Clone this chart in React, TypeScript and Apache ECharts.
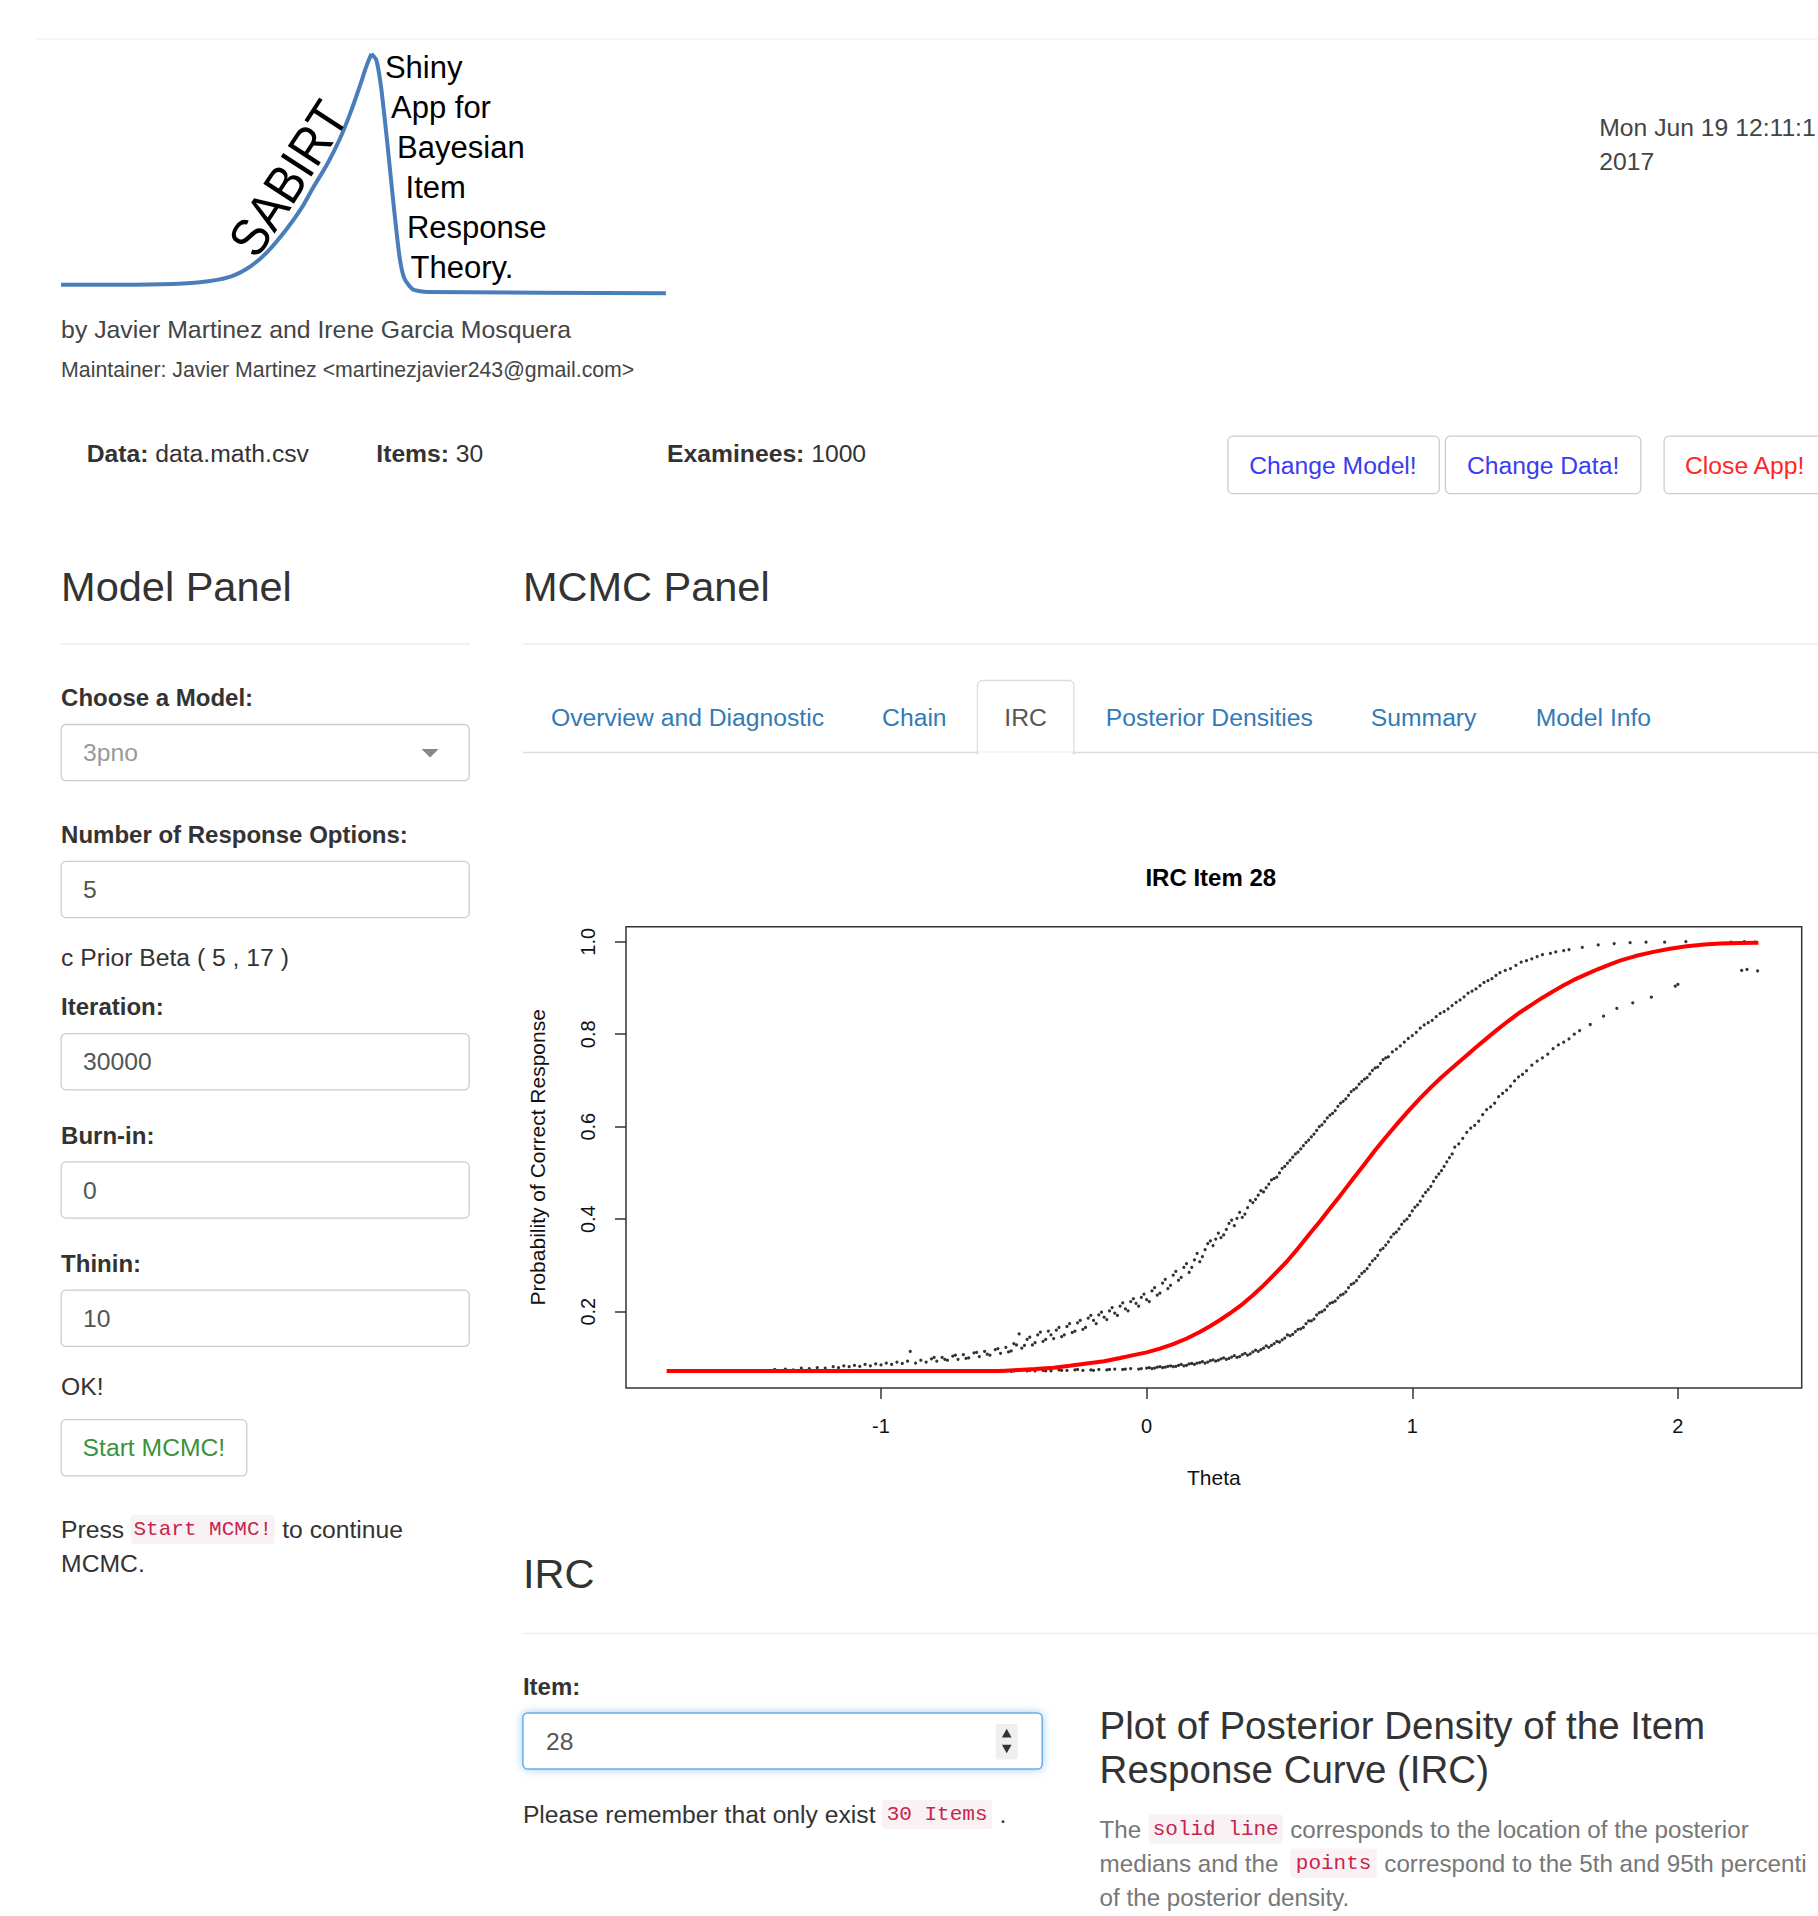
import React, { useEffect, useRef } from "react";
import * as echarts from "echarts";

// ---------------- data ----------------
const thetaTicks = [-1, 0, 1, 2];
const probTicks = [0.2, 0.4, 0.6, 0.8, 1.0];

// posterior median IRC (red line)
const medianIRC: [number, number][] = [
  [-1.807, 0.072], [-1.4, 0.072], [-1.0, 0.072], [-0.55, 0.072], [-0.48, 0.074], [-0.42, 0.076],
  [-0.35, 0.079], [-0.29, 0.083], [-0.226, 0.088], [-0.16, 0.093], [-0.1, 0.1], [-0.05, 0.106],
  [0.0, 0.112], [0.05, 0.12], [0.1, 0.13], [0.151, 0.142], [0.2, 0.156], [0.24, 0.169],
  [0.276, 0.182], [0.32, 0.199], [0.36, 0.216], [0.401, 0.236], [0.44, 0.257], [0.48, 0.28],
  [0.527, 0.308], [0.57, 0.337], [0.61, 0.366], [0.652, 0.395], [0.69, 0.423], [0.73, 0.452],
  [0.778, 0.488], [0.82, 0.519], [0.86, 0.549], [0.904, 0.58], [0.95, 0.611], [0.99, 0.637],
  [1.03, 0.662], [1.07, 0.685], [1.11, 0.707], [1.154, 0.729], [1.2, 0.752], [1.24, 0.772],
  [1.28, 0.791], [1.32, 0.81], [1.36, 0.828], [1.405, 0.847], [1.45, 0.864], [1.49, 0.879],
  [1.531, 0.893], [1.57, 0.906], [1.61, 0.918], [1.656, 0.93], [1.7, 0.941], [1.74, 0.95],
  [1.782, 0.959], [1.84, 0.969], [1.908, 0.978], [1.97, 0.985], [2.033, 0.99], [2.1, 0.994],
  [2.159, 0.996], [2.23, 0.997], [2.303, 0.998],
];

// 95th percentile points (upper band)
const upper95: [number, number][] = [
  [-1.4, 0.075], [-1.36, 0.076], [-1.33, 0.074], [-1.3, 0.078], [-1.27, 0.077], [-1.24, 0.079],
  [-1.21, 0.078], [-1.18, 0.081], [-1.16, 0.079], [-1.14, 0.083], [-1.12, 0.081], [-1.1, 0.084],
  [-1.08, 0.082], [-1.06, 0.086], [-1.04, 0.083], [-1.02, 0.087], [-1.0, 0.085], [-0.98, 0.089],
  [-0.96, 0.086], [-0.94, 0.091], [-0.92, 0.088], [-0.9, 0.093], [-0.89, 0.114], [-0.87, 0.089],
  [-0.85, 0.095], [-0.83, 0.091], [-0.81, 0.098], [-0.79, 0.093], [-0.77, 0.101], [-0.75, 0.095],
  [-0.73, 0.104], [-0.71, 0.097], [-0.69, 0.107], [-0.67, 0.1], [-0.65, 0.111], [-0.63, 0.103],
  [-0.61, 0.114], [-0.59, 0.106], [-0.57, 0.118], [-0.55, 0.11], [-0.53, 0.123], [-0.51, 0.115],
  [-0.49, 0.128], [-0.48, 0.152], [-0.47, 0.121], [-0.45, 0.14], [-0.43, 0.128], [-0.41, 0.15],
  [-0.39, 0.136], [-0.37, 0.158], [-0.35, 0.142], [-0.33, 0.166], [-0.31, 0.15], [-0.29, 0.174],
  [-0.27, 0.158], [-0.25, 0.181], [-0.23, 0.166], [-0.21, 0.192], [-0.19, 0.174], [-0.17, 0.199],
  [-0.15, 0.183], [-0.13, 0.209], [-0.11, 0.192], [-0.09, 0.219], [-0.07, 0.202], [-0.05, 0.228],
  [-0.03, 0.212], [-0.01, 0.238], [0.01, 0.222], [0.03, 0.252], [0.05, 0.24], [0.07, 0.27],
  [0.09, 0.257], [0.11, 0.287], [0.13, 0.274], [0.15, 0.304], [0.17, 0.296], [0.19, 0.326],
  [0.21, 0.319], [0.23, 0.347], [0.25, 0.343], [0.27, 0.37], [0.29, 0.366], [0.31, 0.391],
  [0.33, 0.386], [0.35, 0.415], [0.37, 0.411], [0.39, 0.44], [0.41, 0.443], [0.43, 0.462],
  [0.45, 0.468], [0.47, 0.485], [0.49, 0.491], [0.51, 0.51], [0.53, 0.521], [0.55, 0.534],
  [0.57, 0.545], [0.59, 0.559], [0.61, 0.571], [0.63, 0.584], [0.65, 0.6], [0.67, 0.611],
  [0.69, 0.625], [0.71, 0.635], [0.73, 0.651], [0.75, 0.66], [0.77, 0.676], [0.79, 0.684],
  [0.81, 0.698], [0.83, 0.706], [0.85, 0.722], [0.87, 0.729], [0.89, 0.745], [0.91, 0.751],
  [0.94, 0.768], [0.97, 0.783], [1.0, 0.797], [1.03, 0.813], [1.06, 0.825], [1.09, 0.838],
  [1.12, 0.849], [1.15, 0.862], [1.18, 0.874], [1.21, 0.889], [1.24, 0.898], [1.27, 0.912],
  [1.3, 0.92], [1.33, 0.933], [1.37, 0.942], [1.41, 0.956], [1.45, 0.963], [1.49, 0.972],
  [1.54, 0.978], [1.59, 0.983], [1.64, 0.988], [1.7, 0.993], [1.76, 0.996], [1.82, 0.998],
  [1.88, 0.999], [1.95, 0.999], [2.03, 1.0], [2.2, 0.999], [2.25, 1.0], [2.29, 0.999],
  [-0.8, 0.101], [-0.76, 0.097], [-0.72, 0.106], [-0.68, 0.099], [-0.64, 0.112], [-0.6, 0.108],
  [-0.56, 0.12], [-0.52, 0.113], [-0.5, 0.131], [-0.46, 0.127], [-0.44, 0.145], [-0.42, 0.133],
  [-0.4, 0.156], [-0.38, 0.14], [-0.36, 0.15], [-0.34, 0.16], [-0.32, 0.146], [-0.3, 0.168],
  [-0.28, 0.155], [-0.26, 0.176], [-0.24, 0.162], [-0.22, 0.186], [-0.2, 0.181], [-0.18, 0.193],
  [-0.16, 0.188], [-0.14, 0.202], [-0.12, 0.197], [-0.1, 0.212], [-0.08, 0.206], [-0.06, 0.222],
  [-0.04, 0.218], [-0.02, 0.231], [0.0, 0.226], [0.02, 0.245], [0.04, 0.236], [0.06, 0.262],
  [0.08, 0.25], [0.1, 0.279], [0.12, 0.268], [0.14, 0.296], [0.16, 0.285], [0.18, 0.312],
  [0.2, 0.308], [0.22, 0.334], [0.24, 0.353], [0.26, 0.357], [0.28, 0.36], [0.3, 0.378],
  [0.32, 0.398], [0.34, 0.402], [0.36, 0.404], [0.38, 0.425], [0.4, 0.436], [0.42, 0.452],
  [0.44, 0.459], [0.46, 0.476], [0.48, 0.488], [0.5, 0.5], [0.52, 0.514], [0.54, 0.527],
  [0.56, 0.541], [0.58, 0.552], [0.6, 0.566], [0.62, 0.578], [0.64, 0.592], [0.66, 0.604],
  [0.68, 0.619], [0.7, 0.629], [0.72, 0.644], [0.74, 0.655], [0.76, 0.668], [0.78, 0.68],
  [0.8, 0.692], [0.82, 0.703], [0.84, 0.714], [0.86, 0.727], [0.88, 0.737], [0.9, 0.749],
  [0.925, 0.762], [0.955, 0.775], [0.985, 0.791], [1.015, 0.804], [1.045, 0.82], [1.075, 0.83],
  [1.105, 0.845], [1.135, 0.855], [1.165, 0.869], [1.195, 0.881], [1.225, 0.893], [1.255, 0.905],
  [1.285, 0.916], [1.315, 0.927], [1.35, 0.938], [1.39, 0.949], [1.43, 0.959], [1.47, 0.968],
  [1.52, 0.975], [1.57, 0.981],
];

// 5th percentile points (lower band)
const lower05: [number, number][] = [
  [-0.57, 0.071], [-0.54, 0.072], [-0.51, 0.071], [-0.48, 0.073], [-0.45, 0.072], [-0.42, 0.072],
  [-0.39, 0.073], [-0.36, 0.072], [-0.33, 0.074], [-0.3, 0.073], [-0.27, 0.074], [-0.24, 0.073],
  [-0.21, 0.074], [-0.18, 0.075], [-0.15, 0.074], [-0.12, 0.076], [-0.09, 0.075], [-0.06, 0.077],
  [-0.03, 0.076], [0.0, 0.078], [0.02, 0.077], [0.04, 0.08], [0.06, 0.079], [0.08, 0.082],
  [0.1, 0.081], [0.12, 0.084], [0.14, 0.083], [0.16, 0.087], [0.18, 0.086], [0.2, 0.09],
  [0.22, 0.089], [0.24, 0.094], [0.26, 0.093], [0.28, 0.098], [0.3, 0.097], [0.32, 0.102],
  [0.34, 0.101], [0.36, 0.107], [0.38, 0.106], [0.4, 0.113], [0.42, 0.114], [0.44, 0.121],
  [0.46, 0.123], [0.48, 0.131], [0.5, 0.134], [0.52, 0.143], [0.54, 0.148], [0.56, 0.157],
  [0.58, 0.163], [0.6, 0.174], [0.62, 0.18], [0.64, 0.193], [0.66, 0.2], [0.68, 0.212],
  [0.7, 0.22], [0.72, 0.23], [0.74, 0.238], [0.76, 0.252], [0.78, 0.262], [0.8, 0.276],
  [0.82, 0.287], [0.84, 0.302], [0.86, 0.315], [0.88, 0.333], [0.9, 0.344], [0.92, 0.361],
  [0.94, 0.372], [0.96, 0.389], [0.98, 0.4], [1.0, 0.418], [1.02, 0.431], [1.04, 0.45],
  [1.06, 0.464], [1.08, 0.482], [1.1, 0.498], [1.12, 0.514], [1.14, 0.533], [1.16, 0.556],
  [1.19, 0.575], [1.22, 0.597], [1.25, 0.612], [1.28, 0.637], [1.31, 0.651], [1.34, 0.672],
  [1.37, 0.688], [1.4, 0.708], [1.43, 0.721], [1.47, 0.742], [1.51, 0.757], [1.55, 0.777],
  [1.59, 0.79], [1.63, 0.808], [1.67, 0.821], [1.72, 0.839], [1.77, 0.856], [1.83, 0.868],
  [1.9, 0.88], [1.99, 0.904], [2.0, 0.908], [2.24, 0.938], [2.26, 0.94], [2.3, 0.937],
  [-0.55, 0.073], [-0.5, 0.072], [-0.44, 0.073], [-0.38, 0.072], [-0.32, 0.073], [-0.26, 0.075],
  [-0.2, 0.073], [-0.14, 0.075], [-0.08, 0.076], [-0.02, 0.077], [0.01, 0.079], [0.03, 0.078],
  [0.05, 0.081], [0.07, 0.08], [0.09, 0.083], [0.11, 0.082], [0.13, 0.086], [0.15, 0.084],
  [0.17, 0.088], [0.19, 0.089], [0.21, 0.092], [0.23, 0.091], [0.25, 0.096], [0.27, 0.095],
  [0.29, 0.1], [0.31, 0.099], [0.33, 0.105], [0.35, 0.103], [0.37, 0.11], [0.39, 0.109],
  [0.41, 0.117], [0.43, 0.118], [0.45, 0.126], [0.47, 0.127], [0.49, 0.136], [0.51, 0.139],
  [0.53, 0.15], [0.55, 0.151], [0.57, 0.162], [0.59, 0.166], [0.61, 0.18], [0.63, 0.184],
  [0.65, 0.198], [0.67, 0.204], [0.69, 0.218], [0.71, 0.223], [0.73, 0.236], [0.75, 0.243],
  [0.77, 0.259], [0.79, 0.267], [0.81, 0.283], [0.83, 0.293], [0.85, 0.31], [0.87, 0.322],
  [0.89, 0.337], [0.91, 0.351], [0.93, 0.368], [0.95, 0.379], [0.97, 0.396], [0.99, 0.408],
  [1.01, 0.426], [1.03, 0.439], [1.05, 0.458], [1.07, 0.471], [1.09, 0.491], [1.11, 0.505],
  [1.13, 0.524], [1.15, 0.541], [1.175, 0.563], [1.205, 0.588], [1.235, 0.603], [1.265, 0.626],
  [1.295, 0.643], [1.325, 0.665], [1.355, 0.679], [1.385, 0.699], [1.415, 0.713], [1.45, 0.733],
  [1.49, 0.749], [1.53, 0.769], [1.57, 0.783], [1.61, 0.8],
];

const tabLabels = ["Overview and Diagnostic", "Chain", "IRC", "Posterior Densities", "Summary", "Model Info"];
const logoWords = ["Shiny", "App for", "Bayesian", "Item", "Response", "Theory."];

// ---------------- layout helpers ----------------
const W = 1818;
const H = 1916;
const K = W / 1488; // layout was measured on the 1488-wide preview
const S = (v: number) => Math.round(v * K * 10) / 10;
const FONT = '"Liberation Sans", Arial, Helvetica, sans-serif';
const MONO = '"Liberation Mono", "DejaVu Sans Mono", monospace';
const BODY = 24.7;

function T(x: number, y: number, text: string, o: any = {}) {
  const align = o.align || "left";
  return {
    type: "text",
    x: S(x),
    y: S(y),
    rotation: o.rotation || 0,
    scaleX: o.scaleX || 1,
    silent: true,
    z: 10,
    style: {
      text,
      fill: o.color || "#333",
      fontSize: o.size || BODY,
      fontFamily: o.family || FONT,
      fontWeight: o.weight || "normal",
      textAlign: align,
      align,
      textVerticalAlign: "middle",
      verticalAlign: "middle",
      rich: o.rich,
    },
  };
}
function R(x1: number, y1: number, x2: number, y2: number, style: any = {}, r: any = 4) {
  return {
    type: "rect",
    silent: true,
    z: 5,
    shape: { x: S(x1), y: S(y1), width: S(x2) - S(x1), height: S(y2) - S(y1), r: Array.isArray(r) ? r.map(S) : S(r) },
    style: { fill: "#fff", stroke: "#ccc", lineWidth: 1.3, ...style },
  };
}
function L(x1: number, y1: number, x2: number, y2: number, color: string, w = 1.5) {
  return {
    type: "line",
    silent: true,
    z: 6,
    shape: { x1: S(x1), y1: S(y1), x2: S(x2), y2: S(y2) },
    style: { stroke: color, lineWidth: w },
  };
}
const P = (pts: number[][]) => pts.map(([x, y]) => [S(x), S(y)]);
function codeSpan(x1: number, x2: number, y: number, text: string) {
  return [
    R(x1, y - 12, x2, y + 12, { fill: "#f9f2f4", stroke: null }, 3),
    T((x1 + x2) / 2, y, text, { align: "center", color: "#c7254e", family: MONO, size: 21 }),
  ];
}
const boldRich = { b: { fontWeight: "bold", fontSize: BODY, fontFamily: FONT, fill: "#333" } };

function buildGraphics() {
  const g: any[] = [];
  // faint top rule
  g.push(L(30, 32, 1488, 32, "#f2f2f2", 1.2));

  // ---- logo ----
  g.push({
    type: "polyline", silent: true, z: 6,
    shape: {
      points: P([[50, 233], [110, 233], [150, 232], [172, 230], [190, 226], [205, 218], [219, 206], [235, 187],
        [247, 170], [256, 154], [268, 134], [278, 114], [287, 92], [295, 69], [300, 54], [304, 44]]),
      smooth: 0.3,
    },
    style: { stroke: "#4a7ebb", lineWidth: 4, fill: null },
  });
  g.push({
    type: "polyline", silent: true, z: 6,
    shape: {
      points: P([[304, 44], [308, 49], [312, 72], [317, 117], [322, 166], [327, 210], [331, 228], [338, 237],
        [350, 239], [545, 240]]),
      smooth: 0.2,
    },
    style: { stroke: "#4a7ebb", lineWidth: 4, fill: null },
  });
  g.push(T(236, 146, "SABIRT", { align: "center", size: 53, color: "#000", scaleX: 0.9, rotation: (57 * Math.PI) / 180 }));
  const logoX = [315, 320, 325, 332, 333, 336];
  logoWords.forEach((w, i) => g.push(T(logoX[i], 55 + i * 32.8, w, { size: 31, color: "#000" })));

  g.push(T(50, 270, "by Javier Martinez and Irene Garcia Mosquera", { size: 24.8, color: "#444" }));
  g.push(T(50, 303, "Maintainer: Javier Martinez <martinezjavier243@gmail.com>", { size: 21.3, color: "#444" }));

  // date
  g.push(T(1309, 104, "Mon Jun 19 12:11:1", { size: 24.7, color: "#444" }));
  g.push(T(1309, 132, "2017", { size: 24.7, color: "#444" }));

  // data summary line
  g.push(T(71, 371, "{b|Data:} data.math.csv", { rich: boldRich }));
  g.push(T(308, 371, "{b|Items:} 30", { rich: boldRich }));
  g.push(T(546, 371, "{b|Examinees:} 1000", { rich: boldRich }));

  // buttons
  g.push(R(1005, 357, 1178, 404));
  g.push(T(1091, 381, "Change Model!", { align: "center", color: "#3b3bf2" }));
  g.push(R(1183, 357, 1343, 404));
  g.push(T(1263, 381, "Change Data!", { align: "center", color: "#3b3bf2" }));
  g.push(R(1362, 357, 1520, 404));
  g.push(T(1428, 381, "Close App!", { align: "center", color: "#ff2626" }));

  // panel headings
  g.push(T(50, 480, "Model Panel", { size: 41.5, color: "#333" }));
  g.push(L(50, 527, 385, 527, "#eeeeee", 1.5));
  g.push(T(428, 480, "MCMC Panel", { size: 41.5, color: "#333" }));
  g.push(L(428, 527, 1488, 527, "#eeeeee", 1.5));

  // left panel form
  const lab = (y: number, t: string) => g.push(T(50, y, t, { weight: "bold", size: 24 }));
  const inp = (y1: number, val: string, color = "#555") => {
    g.push(R(50, y1, 384, y1 + 46, { stroke: "#cccccc" }));
    g.push(T(68, y1 + 23, val, { color }));
  };
  lab(571, "Choose a Model:");
  inp(593, "3pno", "#999");
  g.push({ type: "polygon", silent: true, z: 7, shape: { points: P([[345, 613], [359, 613], [352, 620]]) }, style: { fill: "#888" } });
  lab(683, "Number of Response Options:");
  inp(705, "5");
  g.push(T(50, 784, "c Prior Beta ( 5 , 17 )"));
  lab(824, "Iteration:");
  inp(846, "30000");
  lab(929, "Burn-in:");
  inp(951, "0");
  lab(1034, "Thinin:");
  inp(1056, "10");
  g.push(T(50, 1135, "OK!"));
  g.push(R(50, 1162, 202, 1208));
  g.push(T(126, 1185, "Start MCMC!", { align: "center", color: "#3c923c" }));
  g.push(T(50, 1252, "Press"));
  g.push(...codeSpan(107, 225, 1252, "Start MCMC!"));
  g.push(T(231, 1252, "to continue"));
  g.push(T(50, 1280, "MCMC."));

  // tabs
  g.push(L(428, 616, 1488, 616, "#dddddd", 1.5));
  g.push(R(800, 557, 879, 617, { stroke: "#dddddd" }, [4, 4, 0, 0]));
  g.push(L(801, 617, 878, 617, "#ffffff", 3));
  const tabX = [451, 722, 822, 905, 1122, 1257];
  tabLabels.forEach((t, i) => g.push(T(tabX[i], 587, t, { color: t === "IRC" ? "#555" : "#337ab7" })));

  // chart title
  g.push(T(991, 718, "IRC Item 28", { align: "center", weight: "bold", size: 24, color: "#000" }));

  // IRC section below the chart
  g.push(T(428, 1288, "IRC", { size: 41.5 }));
  g.push(L(428, 1337, 1488, 1337, "#eeeeee", 1.5));
  g.push(T(428, 1380, "Item:", { weight: "bold", size: 24 }));
  g.push(R(428, 1402, 853, 1448, { stroke: "#66afe9", lineWidth: 1.5, shadowBlur: 10, shadowColor: "rgba(102,175,233,0.6)" }));
  g.push(T(447, 1425, "28", { color: "#555" }));
  g.push(R(815, 1411, 833, 1440, { fill: "#efefef", stroke: null }, 2));
  g.push({ type: "polygon", silent: true, z: 7, shape: { points: P([[820, 1422], [828, 1422], [824, 1415]]) }, style: { fill: "#333" } });
  g.push({ type: "polygon", silent: true, z: 7, shape: { points: P([[820, 1428], [828, 1428], [824, 1435]]) }, style: { fill: "#333" } });
  g.push(T(428, 1485, "Please remember that only exist"));
  g.push(...codeSpan(722, 812, 1485, "30 Items"));
  g.push(T(818, 1485, "."));

  g.push(T(900, 1412, "Plot of Posterior Density of the Item", { size: 38.5 }));
  g.push(T(900, 1448, "Response Curve (IRC)", { size: 38.5 }));
  const grey = "#777";
  g.push(T(900, 1497, "The", { color: grey, size: 24.2 }));
  g.push(...codeSpan(940, 1050, 1497, "solid line"));
  g.push(T(1056, 1497, "corresponds to the location of the posterior", { color: grey, size: 24.2 }));
  g.push(T(900, 1525, "medians and the", { color: grey, size: 24.2 }));
  g.push(...codeSpan(1056, 1127, 1525, "points"));
  g.push(T(1133, 1525, "correspond to the 5th and 95th percenti", { color: grey, size: 24.2 }));
  g.push(T(900, 1553, "of the posterior density.", { color: grey, size: 24.2 }));
  return g;
}

export default function App() {
  const ref = useRef<HTMLDivElement>(null);
  useEffect(() => {
    if (!ref.current) return;
    const chart = echarts.init(ref.current, null, { renderer: "svg", width: W, height: H });
    const axisText = { fontSize: 20, color: "#111", fontFamily: FONT };
    const tickStyle = { color: "#333", width: 1.5 };
    chart.setOption({
      animation: false,
      backgroundColor: "#ffffff",
      grid: {
        left: 626, right: 16.3, top: 926.7, bottom: 528,
        show: true, borderColor: "#333", borderWidth: 1.5, backgroundColor: "transparent",
        containLabel: false, outerBoundsMode: "none",
      },
      xAxis: {
        type: "value", min: -1.96, max: 2.466,
        splitLine: { show: false }, axisLine: { show: false, onZero: false },
        axisTick: { show: true, inside: false, length: 11, customValues: thetaTicks, lineStyle: tickStyle },
        axisLabel: { customValues: thetaTicks, margin: 28, ...axisText, formatter: (v: number) => String(v) },
        name: "Theta", nameLocation: "middle", nameGap: 79,
        nameTextStyle: { fontSize: 21, color: "#111", fontFamily: FONT },
      },
      yAxis: {
        type: "value", min: 0.035, max: 1.0325,
        splitLine: { show: false }, axisLine: { show: false, onZero: false },
        axisTick: { show: true, inside: false, length: 11, customValues: probTicks, lineStyle: tickStyle },
        axisLabel: { customValues: probTicks, rotate: 90, margin: 28, ...axisText, formatter: (v: number) => v.toFixed(1) },
        name: "Probability of Correct Response", nameLocation: "middle", nameGap: 78, nameRotate: 90,
        nameTextStyle: { fontSize: 21, color: "#111", fontFamily: FONT },
      },
      series: [
        { name: "95th percentile", type: "scatter", data: upper95, symbol: "circle", symbolSize: 3.2, itemStyle: { color: "#000" }, silent: true, z: 3 },
        { name: "5th percentile", type: "scatter", data: lower05, symbol: "circle", symbolSize: 3.2, itemStyle: { color: "#000" }, silent: true, z: 3 },
        { name: "Posterior median", type: "line", data: medianIRC, showSymbol: false, symbol: "none", lineStyle: { color: "#ff0000", width: 4 }, silent: true, z: 4 },
      ],
      graphic: { elements: buildGraphics() },
    });
    return () => chart.dispose();
  }, []);
  return <div ref={ref} style={{ position: "absolute", left: 0, top: 0, width: W, height: H, background: "#fff" }} />;
}
